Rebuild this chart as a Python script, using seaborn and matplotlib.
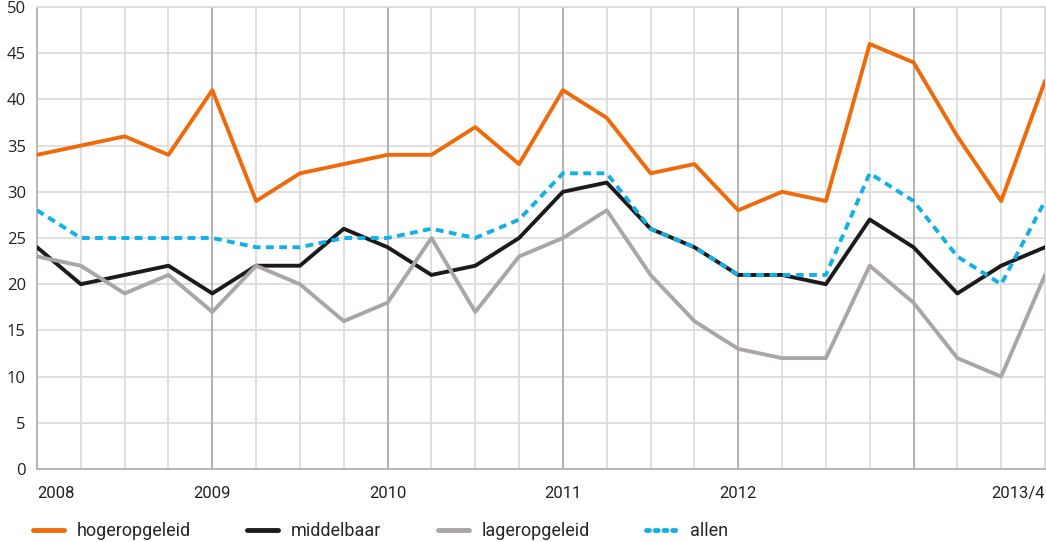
import matplotlib
matplotlib.use("Agg")
import matplotlib.pyplot as plt
import seaborn as sns
import pandas as pd
from matplotlib.lines import Line2D

# quarterly values 2008 Q1 .. 2013 Q4
quarters = list(range(24))
hogeropgeleid = [34, 35, 36, 34, 41, 29, 32, 33, 34, 34, 37, 33,
                 41, 38, 32, 33, 28, 30, 29, 46, 44, 36, 29, 42]
middelbaar = [24, 20, 21, 22, 19, 22, 22, 26, 24, 21, 22, 25,
              30, 31, 26, 24, 21, 21, 20, 27, 24, 19, 22, 24]
lageropgeleid = [23, 22, 19, 21, 17, 22, 20, 16, 18, 25, 17, 23,
                 25, 28, 21, 16, 13, 12, 12, 22, 18, 12, 10, 21]
allen = [28, 25, 25, 25, 25, 24, 24, 25, 25, 26, 25, 27,
         32, 32, 26, 24, 21, 21, 21, 32, 29, 23, 20, 29]

xtick_pos = [0, 4, 8, 12, 16, 23]
xtick_labels = ["2008", "2009", "2010", "2011", "2012", "2013/4"]
year_lines = [4, 8, 12, 16, 20]

series = ["hogeropgeleid", "middelbaar", "lageropgeleid", "allen"]
colors = {"hogeropgeleid": "#ee6a0a", "middelbaar": "#1c1a1b",
          "lageropgeleid": "#aaa5a6", "allen": "#12b0e6"}

df = pd.DataFrame({"kwartaal": quarters, "hogeropgeleid": hogeropgeleid,
                   "middelbaar": middelbaar, "lageropgeleid": lageropgeleid,
                   "allen": allen})
long = df.melt(id_vars="kwartaal", var_name="groep", value_name="waarde")

sns.set_style("white")
plt.rcParams["font.family"] = ["Open Sans", "DejaVu Sans"]
narrow = ["Roboto", "DejaVu Sans"]

fig = plt.figure(figsize=(10.46, 5.42), dpi=100)
ax = fig.add_axes([37 / 1046, 1 - 469 / 542, 1008 / 1046, 462 / 542])

# grid first so lines sit on top
for q in quarters:
    ax.axvline(q, color="#dcdcdc", lw=1.3, zorder=0)
for y in range(0, 55, 5):
    ax.axhline(y, color="#dcdcdc", lw=1.3, zorder=0)
for q in year_lines:
    ax.axvline(q, color="#ada9aa", lw=1.2, zorder=0.5)

sns.lineplot(data=long, x="kwartaal", y="waarde", hue="groep", style="groep",
             hue_order=series, style_order=series, palette=colors,
             dashes={"hogeropgeleid": "", "middelbaar": "", "lageropgeleid": "",
                     "allen": (2.0, 1.4)},
             linewidth=2.8, legend=False, ax=ax, zorder=3)

ax.set_xlim(0, 23)
ax.set_ylim(0, 50)
ax.set_yticks(range(0, 55, 5))
ax.set_xticks(xtick_pos)
ax.set_xticklabels(xtick_labels, fontfamily=narrow, fontsize=12, color="#222222")
labels = ax.get_xticklabels()
labels[0].set_ha("left")
labels[-1].set_ha("right")
ax.tick_params(axis="x", length=0, pad=12)
ax.tick_params(axis="y", length=0, pad=8, labelsize=12, labelcolor="#222222")
ax.set_xlabel("")
ax.set_ylabel("")

for side in ["top", "right"]:
    ax.spines[side].set_color("#dcdcdc")
    ax.spines[side].set_linewidth(1.3)
for side in ["left", "bottom"]:
    ax.spines[side].set_color("#b5b1b2")
    ax.spines[side].set_linewidth(1.3)

handles = []
for s in series:
    if s == "allen":
        h = Line2D([], [], color=colors[s], lw=3.5, linestyle=(0, (0.6, 1.2)),
                   dash_capstyle="round")
    else:
        h = Line2D([], [], color=colors[s], lw=3.5, solid_capstyle="round")
    handles.append(h)

fig.legend(handles, series, loc="center left", bbox_to_anchor=(33 / 1046, 11 / 542),
           ncol=4, frameon=False, borderpad=0, borderaxespad=0,
           handlelength=1.7, handletextpad=0.7, columnspacing=3.15,
           prop={"family": narrow, "size": 13})

fig.savefig("out.png", dpi=100)
